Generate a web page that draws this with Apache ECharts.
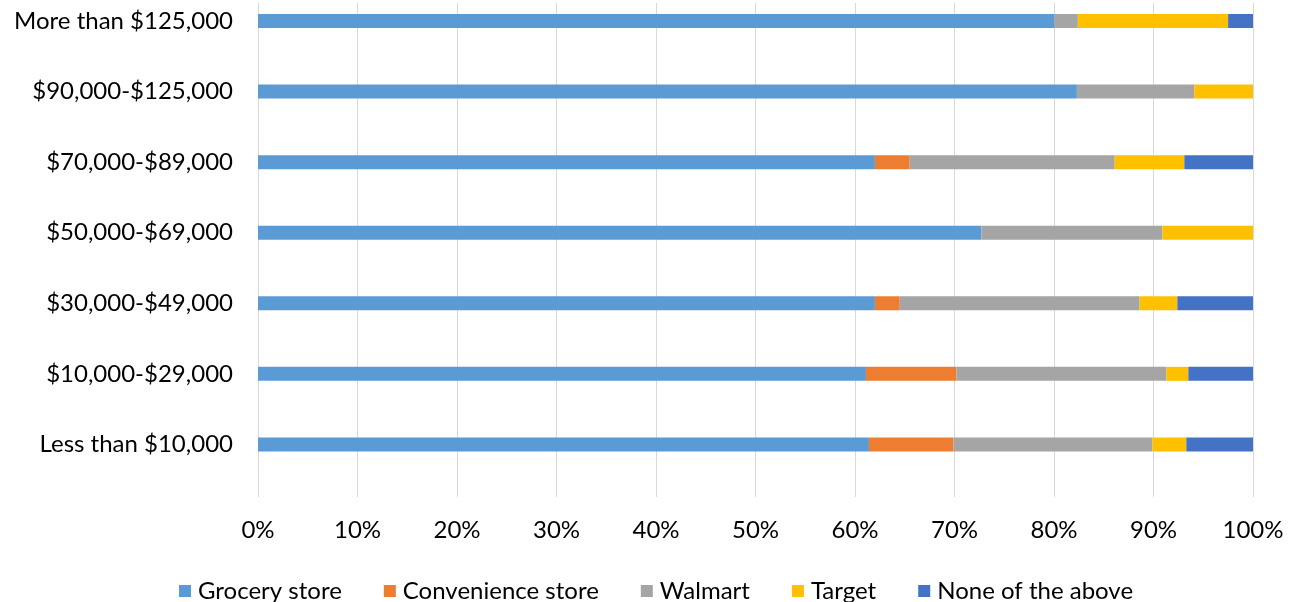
<!DOCTYPE html>
<html><head><meta charset="utf-8">
<script src="https://cdn.jsdelivr.net/npm/echarts@6/dist/echarts.min.js"></script>
<style>html,body{margin:0;padding:0;background:#fff}#c{width:1297px;height:602px}</style>
</head><body><div id="c"></div>
<script>
const categories = ['More than $125,000', '$90,000-$125,000', '$70,000-$89,000', '$50,000-$69,000', '$30,000-$49,000', '$10,000-$29,000', 'Less than $10,000'];
const grocery = [80.0, 82.3, 62.0, 72.7, 62.0, 61.1, 61.4];
const convenience = [0, 0, 3.5, 0, 2.5, 9.1, 8.5];
const walmart = [2.4, 11.8, 20.6, 18.2, 24.1, 21.1, 20.0];
const target = [15.1, 5.9, 7.0, 9.1, 3.8, 2.2, 3.4];
const noneAbove = [2.5, 0, 6.9, 0, 7.6, 6.5, 6.7];
const seriesNames = ['Grocery store', 'Convenience store', 'Walmart', 'Target', 'None of the above'];
const seriesData = [grocery, convenience, walmart, target, noneAbove];
const colors = ['#5B9BD5', '#ED7D31', '#A5A5A5', '#FFC000', '#4472C4'];

const FONT = 'Lato';
const FS = 24;
const chart = echarts.init(document.getElementById('c'), null, {renderer: 'canvas'});
chart.setOption({
  animation: false,
  textStyle: {fontFamily: FONT},
  grid: [
    {left: 258, right: 44, top: 3, bottom: 105, outerBoundsMode: 'none', containLabel: false},
    {left: 258, right: 44, top: -14.3, height: 494, outerBoundsMode: 'none', containLabel: false}
  ],
  xAxis: [
    {type: 'value', gridIndex: 0, min: 0, max: 100, interval: 10,
     axisLine: {show: false}, axisTick: {show: false},
     splitLine: {show: true, lineStyle: {color: '#D9D9D9', width: 1}},
     axisLabel: {formatter: '{value}%', color: '#000', fontSize: FS, fontFamily: FONT, margin: 21}},
    {type: 'value', gridIndex: 1, min: 0, max: 100, show: false}
  ],
  yAxis: [
    {type: 'category', gridIndex: 0, data: categories, show: false},
    {type: 'category', gridIndex: 1, data: categories, inverse: true,
     axisLine: {show: false}, axisTick: {show: false},
     axisLabel: {color: '#000', fontSize: FS, fontFamily: FONT, margin: 25}}
  ],
  legend: {
    data: seriesNames, left: 174, top: 574, itemWidth: 12, itemHeight: 12, itemGap: 42,
    icon: 'rect', textStyle: {color: '#000', fontSize: FS, fontFamily: FONT, padding: [0,0,0,2]}
  },
  color: colors,
  series: seriesNames.map((n, i) => ({
    name: n, type: 'bar', stack: 'total', xAxisIndex: 1, yAxisIndex: 1,
    barWidth: 14, data: seriesData[i], itemStyle: {color: colors[i]}
  }))
});
</script></body></html>
